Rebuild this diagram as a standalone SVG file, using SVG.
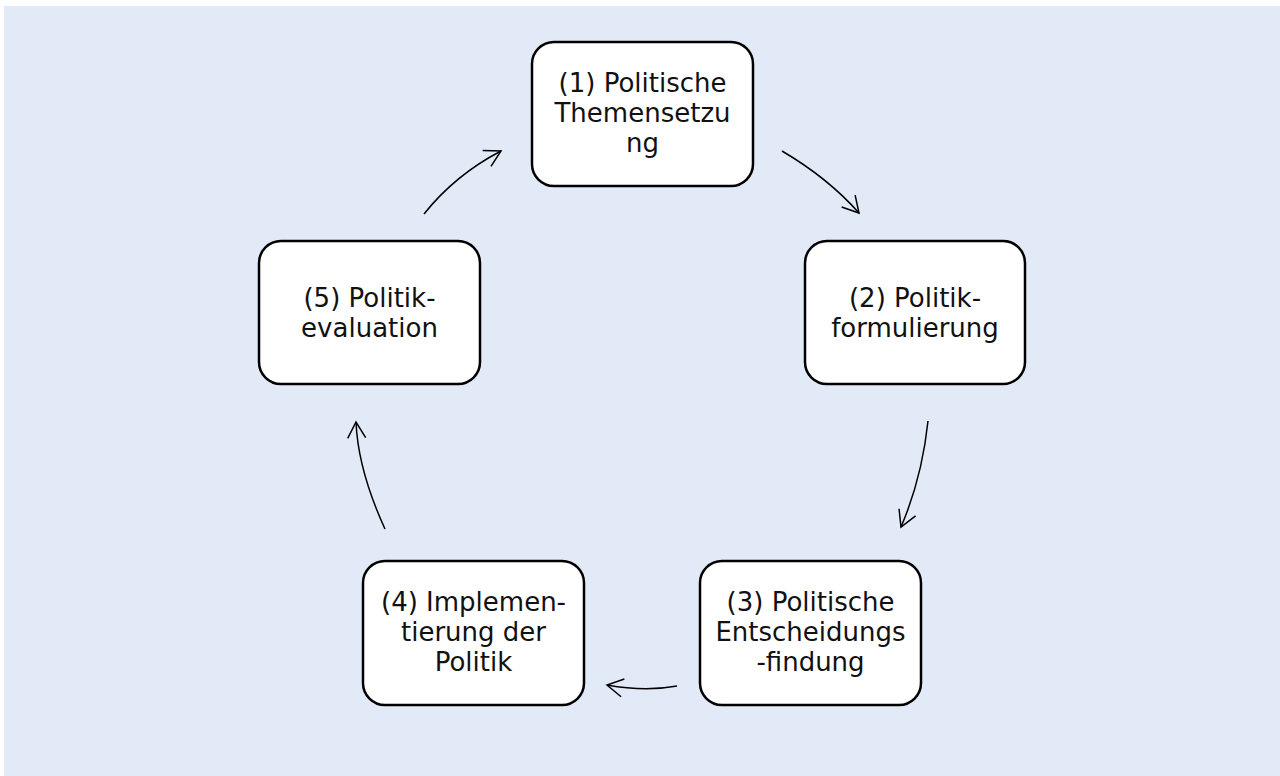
<svg xmlns="http://www.w3.org/2000/svg" width="1280" height="776" viewBox="0 0 1280 776">
  <defs>
    <style>
      .node rect { fill: #ffffff; stroke: #000000; stroke-width: 2.5; }
      .node text { font-family: "DejaVu Sans", "Liberation Sans", sans-serif; font-size: 26px; fill: #111111; text-anchor: middle; }
      .conn path { fill: none; stroke: #000000; stroke-width: 1.5; }
    </style>
    <marker id="arrow" markerUnits="userSpaceOnUse" markerWidth="40" markerHeight="40" viewBox="-20 -20 40 40" refX="0" refY="0" orient="auto">
      <path d="M-16,-9 L0,0 L-16,9" fill="none" stroke="#000000" stroke-width="1.5"/>
    </marker>
  </defs>
  <rect x="0" y="0" width="1280" height="776" fill="#ffffff"/>
  <rect x="4" y="6" width="1276" height="770" fill="#e3eaf7"/>

  <g id="connectors" class="conn">
    <path d="M424,214 Q455,175 501,151" marker-end="url(#arrow)"/>
    <path d="M782,151 Q828,178 859,213" marker-end="url(#arrow)"/>
    <path d="M928,421 Q922,478 901,527" marker-end="url(#arrow)"/>
    <path d="M677,686 Q645,692 607,685" marker-end="url(#arrow)"/>
    <path d="M385,529 Q358,470 356,422" marker-end="url(#arrow)"/>
  </g>

  <g id="node1" class="node">
    <rect x="532" y="42" width="221" height="144" rx="22"/>
    <text x="642.5" y="92">(1) Politische</text>
    <text x="642.5" y="122">Themensetzu</text>
    <text x="642.5" y="152">ng</text>
  </g>
  <g id="node2" class="node">
    <rect x="805" y="241" width="220" height="143" rx="22"/>
    <text x="915" y="307">(2) Politik-</text>
    <text x="915" y="337">formulierung</text>
  </g>
  <g id="node3" class="node">
    <rect x="700" y="561" width="221" height="144" rx="22"/>
    <text x="810.5" y="611">(3) Politische</text>
    <text x="810.5" y="641">Entscheidungs</text>
    <text x="810.5" y="671">-findung</text>
  </g>
  <g id="node4" class="node">
    <rect x="363" y="561" width="221" height="144" rx="22"/>
    <text x="473.5" y="611">(4) Implemen-</text>
    <text x="473.5" y="641">tierung der</text>
    <text x="473.5" y="671">Politik</text>
  </g>
  <g id="node5" class="node">
    <rect x="259" y="241" width="221" height="143" rx="22"/>
    <text x="369.5" y="307">(5) Politik-</text>
    <text x="369.5" y="337">evaluation</text>
  </g>
</svg>
